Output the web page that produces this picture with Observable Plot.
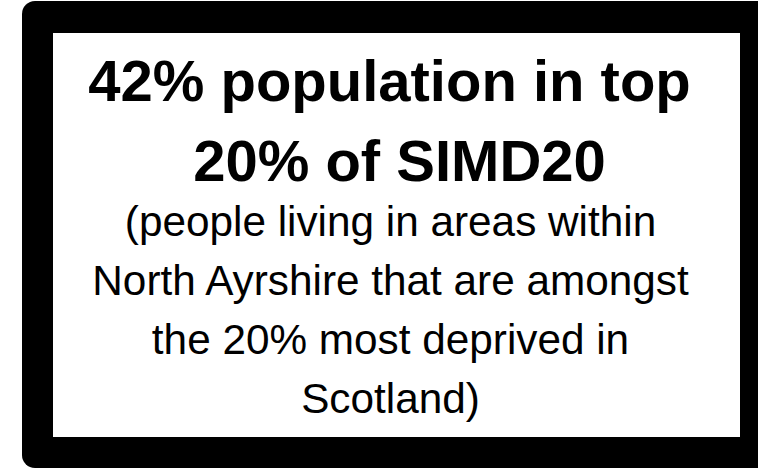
<!DOCTYPE html>
<html>
<head>
<meta charset="utf-8">
<script src="https://cdn.jsdelivr.net/npm/d3@7"></script>
<script src="https://cdn.jsdelivr.net/npm/@observablehq/plot@0.6"></script>
<style>
  html, body { margin: 0; padding: 0; background: #ffffff; }
  #chart svg { display: block; }
</style>
</head>
<body>
<div id="chart"></div>
<script>
// Content of the card
const headlineLines = ["42% population in top", "20% of SIMD20"];
const detailLines = [
  "(people living in areas within",
  "North Ayrshire that are amongst",
  "the 20% most deprived in",
  "Scotland)"
];

const W = 758, H = 472;

// Layout (pixels): headline lines are centred slightly differently in the original
const headlineCenters = [389, 399];
const headline = headlineLines.map((t, i) => ({text: t, x: headlineCenters[i], y: 100 + i * 80}));
const detail = detailLines.map((t, i) => ({text: t, x: 390, y: 235 + i * 59}));

const outer = [{x1: 22, x2: 800, y1: 1, y2: 468}];
const inner = [{x1: 53, x2: 740, y1: 33, y2: 437}];

const chart = Plot.plot({
  width: W,
  height: H,
  margin: 0,
  x: {domain: [0, W], range: [0, W], axis: null},
  y: {domain: [0, H], range: [0, H], axis: null},
  style: {background: "#ffffff", fontFamily: "'Liberation Sans', Arial, sans-serif"},
  marks: [
    Plot.rect(outer, {x1: "x1", x2: "x2", y1: "y1", y2: "y2", fill: "#000000", rx: 13}),
    Plot.rect(inner, {x1: "x1", x2: "x2", y1: "y1", y2: "y2", fill: "#ffffff"}),
    Plot.text(headline, {x: "x", y: "y", text: "text", fontSize: 58, fontWeight: "bold", fill: "#000000", textAnchor: "middle", lineAnchor: "bottom"}),
    Plot.text(detail, {x: "x", y: "y", text: "text", fontSize: 42.3, fill: "#000000", textAnchor: "middle", lineAnchor: "bottom"})
  ]
});
document.getElementById("chart").appendChild(chart);
</script>
</body>
</html>
